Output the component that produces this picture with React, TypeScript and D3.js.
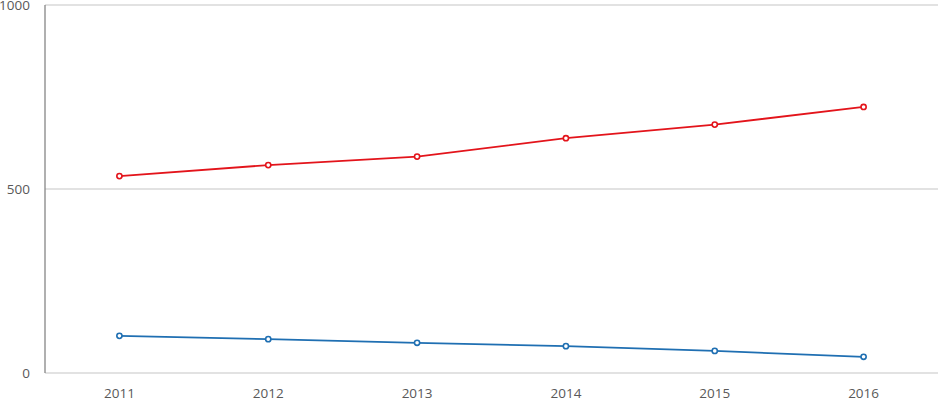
import React from 'react';
import { scaleBand, scaleLinear, line } from 'd3';

const years = ['2011', '2012', '2013', '2014', '2015', '2016'];
const redValues = [535, 565, 588, 638, 675, 723];
const blueValues = [101, 92, 82, 73, 60, 44];
const yTicks = [0, 500, 1000];

export default function App() {
  const width = 938;
  const height = 400;
  const left = 45;
  const top = 5;
  const bottom = 373;

  const x = scaleBand().domain(years).range([left, width]);
  const y = scaleLinear().domain([0, 1000]).range([bottom, top]);

  const path = line<number>()
    .x((_, i) => (x(years[i]) as number) + x.bandwidth() / 2)
    .y((d) => y(d));

  const series = [
    { values: redValues, color: '#e3141b' },
    { values: blueValues, color: '#1f6fb2' },
  ];

  const font = '"Open Sans", sans-serif';

  return (
    <svg
      width={width}
      height={height}
      style={{ position: 'absolute', left: 0, top: 0, background: '#fff' }}
    >
      {yTicks.map((t) => (
        <g key={t}>
          <line x1={left} x2={width} y1={y(t)} y2={y(t)} stroke="#d9d9d9" strokeWidth={1.3} />
          <text
            x={30}
            y={y(t)}
            dy="0.35em"
            textAnchor="end"
            fontFamily={font}
            fontSize={13.5}
            fill="#595959"
          >
            {t}
          </text>
        </g>
      ))}
      <line x1={left} x2={left} y1={top} y2={bottom} stroke="#868686" strokeWidth={1.3} />
      {years.map((yr) => (
        <text
          key={yr}
          x={(x(yr) as number) + x.bandwidth() / 2}
          y={398}
          textAnchor="middle"
          fontFamily={font}
          fontSize={13.5}
          fill="#595959"
        >
          {yr}
        </text>
      ))}
      {series.map((s, si) => (
        <g key={si}>
          <path d={path(s.values) || ''} fill="none" stroke={s.color} strokeWidth={1.8} />
          {s.values.map((v, i) => (
            <circle
              key={i}
              cx={(x(years[i]) as number) + x.bandwidth() / 2}
              cy={y(v)}
              r={2.6}
              fill="#fff"
              stroke={s.color}
              strokeWidth={1.6}
            />
          ))}
        </g>
      ))}
    </svg>
  );
}
